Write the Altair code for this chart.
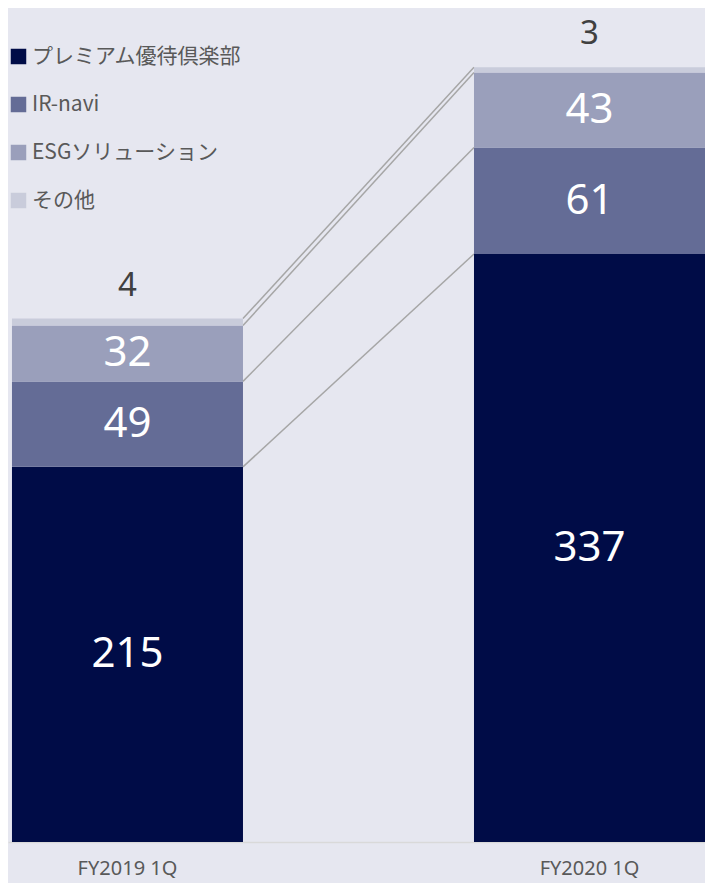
import altair as alt
import pandas as pd

periods = ["FY2019 1Q", "FY2020 1Q"]
categories = ["プレミアム優待倶楽部", "IR-navi", "ESGソリューション", "その他"]
values_fy2019 = [215, 49, 32, 4]
values_fy2020 = [337, 61, 43, 3]
colors = ["#000c47", "#646c96", "#9a9fbb", "#c9ccdb"]

rows = []
for p, vals in zip(periods, [values_fy2019, values_fy2020]):
    for i, (c, v) in enumerate(zip(categories, vals)):
        rows.append({"period": p, "category": c, "value": v, "order": i})
df = pd.DataFrame(rows)

cum19 = pd.Series(values_fy2019).cumsum()
cum20 = pd.Series(values_fy2020).cumsum()
conn = pd.DataFrame({"from": periods[0], "to": periods[1],
                     "y_from": cum19.values, "y_to": cum20.values})

xscale = alt.Scale(domain=periods, paddingInner=0.5, paddingOuter=0.0043, align=1)
yscale = alt.Scale(domain=[0, 478], nice=False, zero=True)

xaxis = alt.Axis(title=None, labelAngle=0, ticks=False, domainColor="#d9d9d9",
                 domainWidth=1.5, labelFontSize=20, labelColor="#595959",
                 labelFont="Noto Sans", labelPadding=16)

rules = alt.Chart(conn).mark_rule(color="#a6a6a6", strokeWidth=1.5).encode(
    x=alt.X("from:N", scale=xscale, bandPosition=1, axis=xaxis),
    x2=alt.X2("to:N", bandPosition=0),
    y=alt.Y("y_from:Q", scale=yscale, axis=None),
    y2="y_to:Q",
)

bars = alt.Chart(df).mark_bar().encode(
    x=alt.X("period:N", scale=xscale, axis=xaxis),
    y=alt.Y("value:Q", stack="zero", scale=yscale, axis=None),
    color=alt.Color("category:N",
                    scale=alt.Scale(domain=categories, range=colors),
                    legend=alt.Legend(title=None, orient="none", legendX=0, legendY=38,
                                      symbolType="square", symbolSize=240,
                                      symbolStrokeWidth=0, labelOffset=3,
                                      labelFontSize=21, labelFont="Noto Sans CJK JP",
                                      labelColor="#595959", labelLimit=400,
                                      rowPadding=26, padding=0)),
    order=alt.Order("order:Q", sort="ascending"),
)

stacked = alt.Chart(df).transform_stack(
    stack="value", groupby=["period"], as_=["y0", "y1"],
    sort=[alt.SortField("order", "ascending")]
).transform_calculate(mid="(datum.y0 + datum.y1) / 2")

inner_labels = stacked.transform_filter(alt.datum.category != "その他").mark_text(
    color="white", fontSize=42, font="Noto Sans", baseline="middle"
).encode(
    x=alt.X("period:N", scale=xscale, axis=xaxis),
    y=alt.Y("mid:Q", scale=yscale, axis=None),
    text="value:Q",
)

top_labels = stacked.transform_filter(alt.datum.category == "その他").mark_text(
    color="#404040", fontSize=33, font="Noto Sans", baseline="alphabetic", dy=-23
).encode(
    x=alt.X("period:N", scale=xscale, axis=xaxis),
    y=alt.Y("y1:Q", scale=yscale, axis=None),
    text="value:Q",
)

chart = alt.layer(rules, bars, inner_labels, top_labels).properties(
    width=697, height=834,
    background="#e6e7f0",
    padding={"left": 0, "top": 0, "right": 0, "bottom": 5},
).configure_view(stroke=None)

chart.save("out.html", embed_options={"renderer": "svg", "actions": False})
